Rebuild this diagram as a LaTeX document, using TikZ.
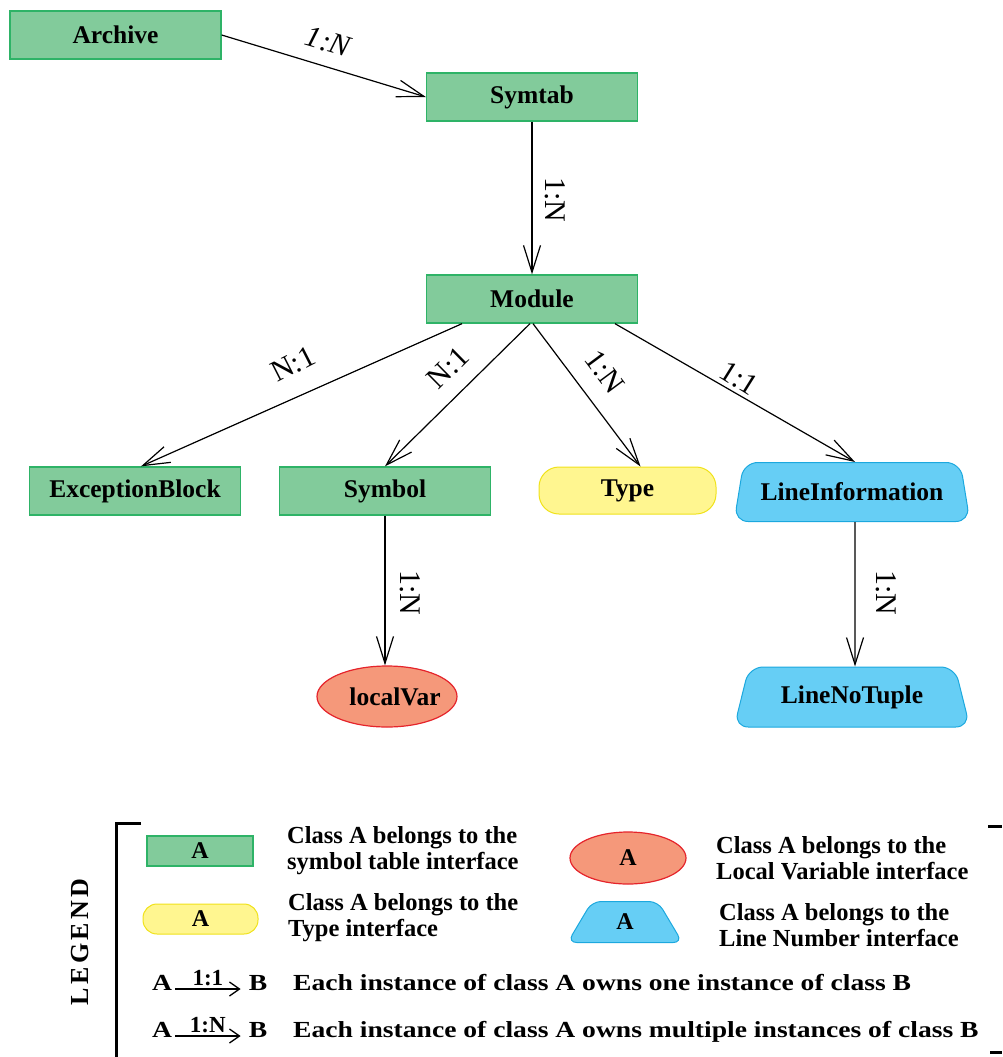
\documentclass[tikz,border=0pt]{standalone}
\usepackage{fontspec}
\setmainfont{Liberation Serif}
\newfontfamily\rowfont{Liberation Serif}[FakeStretch=1.2]
\newcommand{\legendword}{L\kern3.5pt E\kern3.5pt G\kern3.5pt E\kern3.5pt N\kern3.5pt D}
\usetikzlibrary{arrows.meta,shapes.geometric,calc}
\definecolor{gfill}{HTML}{82CB9B}
\definecolor{gdraw}{HTML}{2EB367}
\definecolor{yfill}{HTML}{FFF690}
\definecolor{ydraw}{HTML}{F0E21A}
\definecolor{rfill}{HTML}{F5987A}
\definecolor{rdraw}{HTML}{E5242B}
\definecolor{bfill}{HTML}{66CEF5}
\definecolor{bdraw}{HTML}{1CA8DE}
\tikzset{
  boxtext/.style={font=\fontsize{25.5}{28}\selectfont\bfseries, inner sep=0pt},
  gbox/.style={boxtext, rectangle, fill=gfill, draw=gdraw, line width=1.3pt, minimum width=211pt, minimum height=48pt},
  ybox/.style={boxtext, rectangle, rounded corners=20pt, fill=yfill, draw=ydraw, line width=1pt, minimum width=177pt, minimum height=47pt},
  rbox/.style={boxtext, ellipse, fill=rfill, draw=rdraw, line width=1.2pt, minimum width=140pt, minimum height=61pt},
  bbox/.style={boxtext, trapezium, trapezium left angle=66, trapezium right angle=66, trapezium stretches=true, rounded corners=14pt, fill=bfill, draw=bdraw, line width=1pt, minimum width=236pt, minimum height=59pt},
  lbl/.style={font=\fontsize{30}{32}\selectfont, inner sep=0pt},
  arr/.style={-{Straight Barb[length=27pt,width=17pt]}, line width=1.2pt},
  larr/.style={-{Straight Barb[length=10pt,width=14pt]}, line width=1.3pt},
  lsym/.style={font=\fontsize{24}{26}\selectfont\bfseries},
  ltext/.style={font=\fontsize{24.5}{26}\selectfont\bfseries, align=left, anchor=west, inner sep=0pt},
  rowtxt/.style={font=\fontsize{23}{25}\selectfont\rowfont\bfseries, inner sep=0pt},
  rowlbl/.style={font=\fontsize{23}{25}\selectfont\bfseries, inner sep=0pt},
  bracket/.style={line width=3pt}
}
\begin{document}
\begin{tikzpicture}[x=1pt,y=-1pt]
\useasboundingbox (0,0) rectangle (1002,1057);
% main nodes
\node[gbox] (archive) at (115.5,35) {Archive};
\node[gbox] (symtab) at (532,97) {Symtab};
\node[gbox] (module) at (532,299) {Module};
\node[gbox] (exc) at (135,491) {ExceptionBlock};
\node[gbox] (symbol) at (385,491) {Symbol};
\node[ybox] (type) at (627.5,490.5) {Type};
\node[bbox] (lineinfo) at (852,492) {LineInformation};
\node[rbox] (localvar) at (387,696.5) {\makebox[0pt]{\hspace{16pt}localVar}};
\node[bbox, minimum height=60pt] (lnt) at (852,697) {LineNoTuple};
% connectors
\draw[arr] (archive.east) -- (symtab.west);
\draw[arr] (symtab.south) -- (module.north);
\draw[arr] ([xshift=-70pt]module.south) -- ([xshift=6pt]exc.north);
\draw[arr] ([xshift=-2pt]module.south) -- (symbol.north);
\draw[arr] ([xshift=1pt]module.south) -- ([xshift=13pt]type.north);
\draw[arr] ([xshift=83pt]module.south) -- ([xshift=3pt]lineinfo.north);
\draw[arr] (symbol.south) -- (symbol.south |- localvar.north);
\draw[arr] ([xshift=3pt]lineinfo.south) -- ([xshift=3pt]lnt.north);
% connector labels
\node[lbl, font=\fontsize{30}{32}\selectfont\itshape, rotate=-16.5] (l1) at (328,42) {1:N};
\node[lbl, rotate=-90] (l2) at (555,200) {1:N};
\node[lbl, rotate=27] (l3) at (293,364) {N:1};
\node[lbl, rotate=44.6] (l4) at (448,368) {N:1};
\node[lbl, rotate=-53.4] (l5) at (605,372) {1:N};
\node[lbl, rotate=-32] (l6) at (739,378) {1:1};
\node[lbl, rotate=-90] (l7) at (410,593) {1:N};
\node[lbl, rotate=-90] (l8) at (886,593) {1:N};
% legend frame
\draw[bracket] (141,823) -- (116,823) -- (116,1057);
\draw[bracket] (988,826) -- (1002,826);
\draw[bracket] (990,1052) -- (1002,1052);
\node[font=\fontsize{26}{28}\selectfont\bfseries, rotate=90, inner sep=0pt] (leg) at (80,942) {\legendword};
% legend shapes
\node[gbox, lsym, minimum width=106pt, minimum height=30pt] (lg) at (200,851) {A};
\node[ybox, lsym, minimum width=115pt, minimum height=30pt, rounded corners=14pt] (ly) at (200.5,919) {A};
\node[rbox, lsym, minimum width=116pt, minimum height=52pt] (lr) at (628,858) {A};
\node[bbox, lsym, minimum width=115pt, minimum height=41pt, trapezium left angle=68, trapezium right angle=68, rounded corners=9pt] (lb) at (625,922) {A};
\node[ltext] (t1) at (287,851) {Class A belongs to the\\symbol table interface};
\node[ltext] (t2) at (288,918) {Class A belongs to the\\Type interface};
\node[ltext] (t3) at (716,858) {Class A belongs to the\\Local Variable interface};
\node[ltext] (t4) at (719,925) {Class A belongs to the\\Line Number interface};
% legend rows
\node[rowtxt, anchor=base] (ra1) at (162,990) {A};
\node[rowtxt, anchor=base] (rb1) at (258,990) {B};
\draw[larr] ([xshift=3pt,yshift=1pt]ra1.base east) -- ([xshift=-8pt,yshift=1pt]rb1.base west)
  node[rowlbl, midway, above=3pt] (rl1) {1:1};
\node[rowtxt, anchor=base west] (row1) at (293,990) {Each instance of class A owns one instance of class B};
\node[rowtxt, anchor=base] (ra2) at (162,1037) {A};
\node[rowtxt, anchor=base] (rb2) at (258,1037) {B};
\draw[larr] ([xshift=3pt,yshift=1pt]ra2.base east) -- ([xshift=-8pt,yshift=1pt]rb2.base west)
  node[rowlbl, midway, above=3pt] (rl2) {1:N};
\node[rowtxt, anchor=base west] (row2) at (293,1037) {Each instance of class A owns multiple instances of class B};
\end{tikzpicture}
\end{document}
